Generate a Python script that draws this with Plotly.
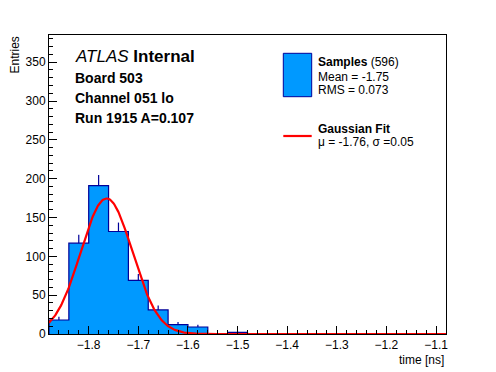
import numpy as np
import plotly.graph_objects as go

# ---- data ----
bin_centers = [-1.86, -1.82, -1.78, -1.74, -1.70, -1.66, -1.62, -1.58, -1.54, -1.50,
               -1.46, -1.42, -1.38, -1.34, -1.30, -1.26, -1.22, -1.18, -1.14, -1.10]
counts = [18, 117, 191, 132, 69, 31, 12, 9, 0, 2,
          0, 0, 0, 0, 0, 0, 0, 0, 0, 0]
bin_width = 0.04
fit_amp = 174.5
fit_mu = -1.764
fit_sigma = 0.052
x_range = [-1.88, -1.08]
y_range = [0, 385]

FILL = "#0099ff"
EDGE = "#000099"
FONT = "Liberation Sans, Arial, Helvetica, sans-serif"

# plot-area pixel geometry (window pixels); page body has an 8px margin
OFF = 8
L, R, T, B = 49, 446, 35, 334
W, H = 496 - OFF, 372 - OFF


def px(x):
    return (x - L) / (R - L)


def py(y):
    return (B - y) / (B - T)


edges = [c - bin_width / 2 for c in bin_centers] + [bin_centers[-1] + bin_width / 2]
step_x = [edges[0]] + edges[:-1] + [edges[-1], edges[-1]]
step_y = [0] + counts + [counts[-1], 0]

fig = go.Figure()
# histogram: filled step outline (no seams between bins)
fig.add_trace(go.Scatter(x=step_x, y=step_y, mode="lines", line_shape="hv",
                         fill="tozeroy", fillcolor=FILL,
                         line=dict(color=EDGE, width=1.2), showlegend=False))
ex = [c for c, n in zip(bin_centers, counts) if n > 0]
ey = [n for n in counts if n > 0]
fig.add_trace(go.Scatter(
    x=ex, y=ey, mode="markers", marker=dict(size=1, color="rgba(0,0,0,0)"),
    error_y=dict(type="data", symmetric=False, array=[np.sqrt(n) for n in ey],
                 arrayminus=[0] * len(ey), width=0, thickness=1.2, color=EDGE),
    showlegend=False))
gx = np.linspace(x_range[0], x_range[1], 500)
gy = fit_amp * np.exp(-0.5 * ((gx - fit_mu) / fit_sigma) ** 2)
fig.add_trace(go.Scatter(x=gx, y=gy, mode="lines", line=dict(color="#ff0000", width=2.2),
                         showlegend=False))

axis_common = dict(showgrid=False, zeroline=False, showline=True, linecolor="black",
                   linewidth=1, mirror=True, ticks="inside", ticklen=8, tickcolor="black",
                   tickwidth=1, tickfont=dict(size=12, color="black", family=FONT))
fig.update_xaxes(range=x_range, tick0=-1.8, dtick=0.1, tickformat=".1f",
                 minor=dict(ticks="inside", ticklen=4, tick0=-1.8, dtick=0.02,
                            tickcolor="black", showgrid=False),
                 **axis_common)
fig.update_yaxes(range=y_range, tick0=0, dtick=50,
                 minor=dict(ticks="inside", ticklen=4, tick0=0, dtick=10,
                            tickcolor="black", showgrid=False),
                 **axis_common)

ann = []


def text(x, y, s, size, xanchor="left", yanchor="middle", angle=0):
    ann.append(dict(x=x, y=y, xref="paper", yref="paper", text=s, showarrow=False,
                    xanchor=xanchor, yanchor=yanchor, textangle=angle,
                    font=dict(size=size, color="black", family=FONT)))


text(px(14), 1.0, "Entries", 12, xanchor="center", yanchor="top", angle=-90)
text(1.0, py(351), "time [ns]", 12, xanchor="right", yanchor="top")
text(px(73), py(56.5), "<i>ATLAS</i> <b>Internal</b>", 17)
text(px(73), py(77.5), "<b>Board 503</b>", 14)
text(px(73), py(97.5), "<b>Channel 051 lo</b>", 14)
text(px(73), py(117.5), "<b>Run 1915 A=0.107</b>", 14)
text(px(316), py(62), "<b>Samples</b> (596)", 12)
text(px(316), py(76.5), "Mean = -1.75", 12)
text(px(316), py(90), "RMS = 0.073", 12)
text(px(316), py(128.5), "<b>Gaussian Fit</b>", 12)
text(px(316), py(142), "μ = -1.76, σ =0.05", 12)

shapes = [
    dict(type="rect", xref="paper", yref="paper", x0=px(283.3), x1=px(311.7),
         y0=py(96.7), y1=py(53.3), fillcolor=FILL, line=dict(color=EDGE, width=1)),
    dict(type="line", xref="paper", yref="paper", x0=px(283.3), x1=px(311.7),
         y0=py(136), y1=py(136), line=dict(color="#ff0000", width=2.2)),
]

fig.update_layout(width=W, height=H,
                  margin=dict(l=L - OFF, r=496 - R, t=T - OFF, b=372 - B, pad=0),
                  plot_bgcolor="white", paper_bgcolor="white",
                  font=dict(family=FONT), annotations=ann, shapes=shapes,
                  showlegend=False)
fig.write_html("out.html")
